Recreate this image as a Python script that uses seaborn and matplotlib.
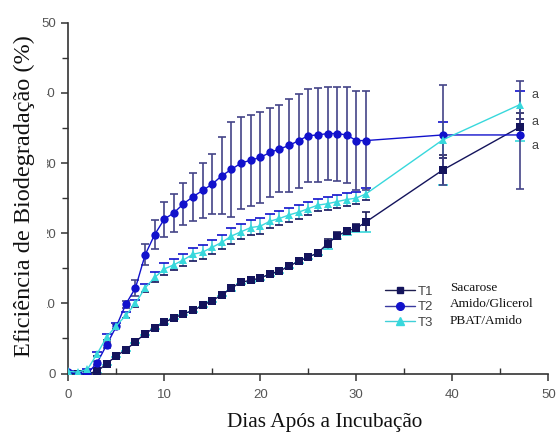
import numpy as np
import pandas as pd
import matplotlib
matplotlib.use("Agg")
import matplotlib.pyplot as plt
from matplotlib.patches import Rectangle
import seaborn as sns

# Incubation days
days = list(range(0, 32)) + [39, 47]

# Mean biodegradation efficiency (%) per treatment
t1_mean = [0.0, 0.0, 0.0, 0.3, 1.4, 2.5, 3.4, 4.5, 5.7, 6.5, 7.3, 7.9, 8.5, 9.0, 9.7, 10.4,
           11.2, 12.2, 13.0, 13.3, 13.6, 14.2, 14.6, 15.3, 16.0, 16.6, 17.2, 18.5, 19.6, 20.3,
           20.7, 21.6, 29.0, 35.1]
t2_mean = [0.2, 0.0, 0.0, 1.5, 4.1, 6.7, 9.9, 12.2, 16.9, 19.8, 22.0, 22.9, 24.2, 25.2, 26.1,
           27.0, 28.2, 29.1, 30.0, 30.4, 30.8, 31.5, 32.0, 32.5, 33.2, 33.9, 34.0, 34.2, 34.2,
           34.0, 33.2, 33.2, 34.0, 34.0]
t3_mean = [0.3, 0.2, 0.6, 2.8, 5.2, 6.8, 8.3, 10.0, 12.2, 13.7, 14.9, 15.5, 16.2, 17.0, 17.3,
           18.0, 18.7, 19.6, 20.2, 20.8, 21.0, 21.7, 22.1, 22.6, 23.0, 23.5, 24.0, 24.2, 24.5,
           24.8, 25.0, 25.6, 33.3, 38.3]

# Standard deviations
t1_sd = [0.0, 0.0, 0.0, 0.2, 0.2, 0.2, 0.2, 0.2, 0.2, 0.2, 0.2, 0.2, 0.2, 0.2, 0.2, 0.2,
         0.2, 0.4, 0.3, 0.3, 0.3, 0.3, 0.3, 0.3, 0.3, 0.3, 0.3, 0.7, 0.5, 0.5, 0.6, 1.4, 2.2, 2.0]
t2_sd = [0.0, 0.0, 0.0, 0.3, 0.4, 0.4, 0.5, 1.1, 1.5, 2.1, 2.5, 2.7, 3.0, 3.4, 3.9, 4.3, 5.5,
         6.8, 6.5, 6.5, 6.5, 6.4, 6.2, 6.6, 6.7, 6.6, 6.7, 6.6, 6.7, 6.8, 7.1, 7.1, 7.1, 7.7]
t3_sd = [0.1, 0.1, 0.1, 0.3, 0.4, 0.4, 0.4, 0.5, 0.6, 0.7, 0.8, 0.8, 0.9, 0.9, 1.0, 1.0, 1.0,
         1.1, 1.1, 1.1, 1.1, 1.0, 1.0, 1.0, 1.0, 0.9, 0.9, 0.9, 0.9, 0.9, 0.8, 0.8, 2.6, 2.0]

treatments = ["T1", "T2", "T3"]
descriptions = ["Sacarose", "Amido/Glicerol", "PBAT/Amido"]
letters = ["a", "a", "a"]
letter_y = [39.7, 35.8, 32.4]

means = {"T1": t1_mean, "T2": t2_mean, "T3": t3_mean}
sds = {"T1": t1_sd, "T2": t2_sd, "T3": t3_sd}

df = pd.concat(
    [pd.DataFrame({"dia": days, "ef": means[t], "sd": sds[t], "trat": t}) for t in treatments],
    ignore_index=True,
)

marker_colors = {"T1": "#14145c", "T2": "#1212cc", "T3": "#38d8dc"}
line_colors = {"T1": "#1e1e50", "T2": "#3a3aa0", "T3": "#40d0d8"}
err_colors = {"T1": "#1e1e5a", "T2": "#444488", "T3": "#55c8dc"}
markers = {"T1": "s", "T2": "o", "T3": "^"}
msizes = {"T1": 6.0, "T2": 7.0, "T3": 7.0}

sns.set_style("white")
plt.rcParams["font.family"] = ["Liberation Sans", "DejaVu Sans"]
serif = ["Liberation Serif", "DejaVu Serif"]

fig = plt.figure(figsize=(5.57, 4.34), dpi=100)
ax = fig.add_axes([0.1226, 0.1394, 0.8618, 0.8083])

# error bars first, then lines with markers on top
for t in ["T3", "T1", "T2"]:
    sub = df[df["trat"] == t]
    ax.errorbar(sub["dia"], sub["ef"], yerr=sub["sd"], fmt="none",
                ecolor=err_colors[t], elinewidth=1.2, capsize=2.6, capthick=1.2, zorder=2)

sns.lineplot(data=df, x="dia", y="ef", hue="trat", style="trat",
             palette=marker_colors, markers=markers, dashes=False,
             markeredgewidth=0, linewidth=1.0, ax=ax, legend=False, zorder=3)

for line, t in zip(ax.lines, treatments):
    line.set_color(line_colors[t])
    line.set_markerfacecolor(marker_colors[t])
    line.set_markeredgecolor(marker_colors[t])
    line.set_markersize(msizes[t])

ax.set_xlim(0, 50)
ax.set_ylim(0, 50)
ax.set_xticks([0, 10, 20, 30, 40, 50])
ax.set_yticks([0, 10, 20, 30, 40, 50])
ax.set_xticks([5, 15, 25, 35, 45], minor=True)
ax.set_yticks([5, 15, 25, 35, 45], minor=True)
ax.set_xlabel("")
ax.set_ylabel("")
for side in ["top", "right"]:
    ax.spines[side].set_visible(False)
for side in ["left", "bottom"]:
    ax.spines[side].set_color("#333333")
    ax.spines[side].set_linewidth(1.2)

ax.tick_params(axis="both", which="major", direction="out", length=5, width=1.1,
               color="#333333", labelsize=9.5, labelcolor="#555555")
ax.tick_params(axis="x", which="major", pad=6)
ax.tick_params(axis="y", which="major", pad=4)
ax.tick_params(axis="x", which="minor", direction="in", length=4, width=1.0, color="#333333")
ax.tick_params(axis="y", which="minor", direction="out", length=4, width=1.0, color="#333333")
ax.tick_params(axis="both", which="both", bottom=True, left=True)

# significance letters at the last sampling day
for ly, lt in zip(letter_y, letters):
    ax.text(48.3, ly, lt, fontsize=9, color="#444444", ha="left", va="center")

# legend: treatment code with its sample line, description beside it
handles = [plt.Line2D([], [], color=line_colors[t], marker=markers[t],
                      markerfacecolor=marker_colors[t], markeredgecolor=marker_colors[t],
                      markersize=msizes[t] - 1.5, linewidth=1.0) for t in treatments]
leg = ax.legend(handles, treatments, loc="upper left",
                bbox_to_anchor=(378 / 557, 1 - 279 / 434), bbox_transform=fig.transFigure,
                frameon=False, fontsize=9.5, handlelength=2.3, handletextpad=0.25,
                labelspacing=0.25, borderpad=0)
for txt in leg.get_texts():
    txt.set_color("#444444")
for i, d in enumerate(descriptions):
    fig.text(450 / 557, 1 - (288 + i * 16.3) / 434, d, fontsize=9.5,
             family=serif, color="#111111", ha="left", va="center")

# white panel behind the y-axis title
fig.add_artist(Rectangle((0, 1 - 362 / 434), 47 / 557, (362 - 30) / 434,
                         transform=fig.transFigure, facecolor="white",
                         edgecolor="none", zorder=1))
fig.text(24 / 557, 1 - 196 / 434, "Eficiência de Biodegradação (%)", rotation=90,
         fontsize=17.5, family=serif, ha="center", va="center", color="#111111", zorder=3)
fig.text(325 / 557, 1 - 422 / 434, "Dias Após a Incubação", fontsize=15.3, family=serif,
         ha="center", va="center", color="#111111")

fig.savefig("out.png", dpi=100, facecolor="white")
